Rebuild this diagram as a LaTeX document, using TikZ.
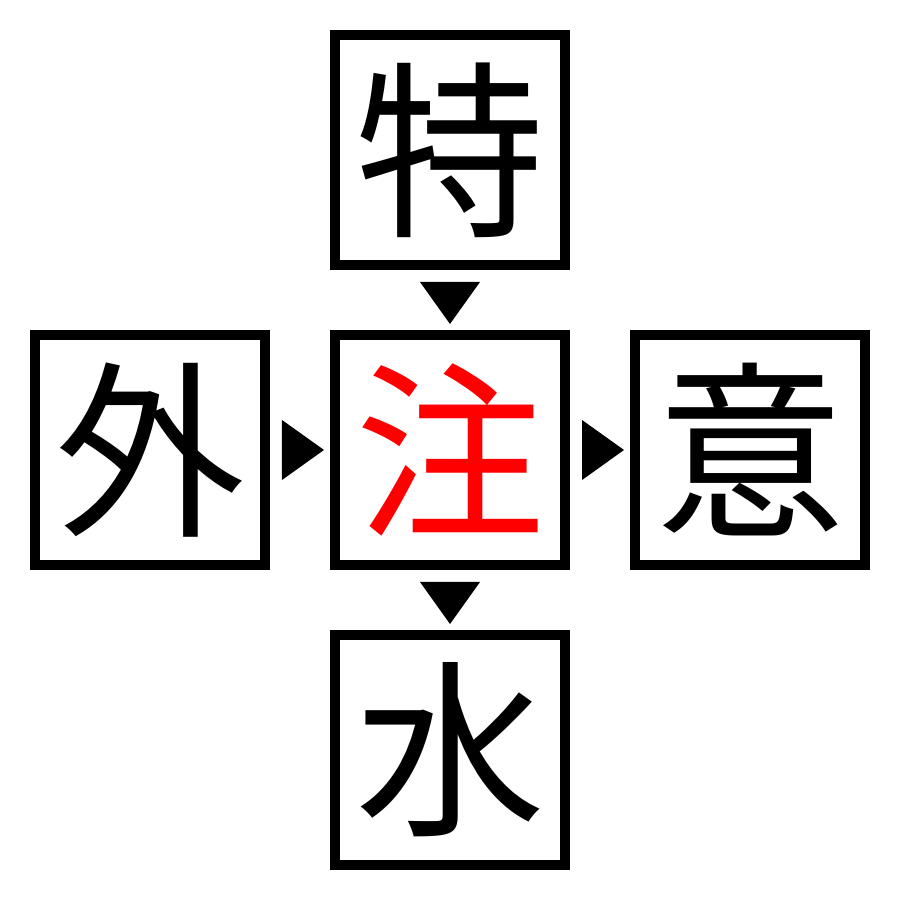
\documentclass[tikz,border=0pt]{standalone}
\usepackage{fontspec}
\newfontfamily\cjk{Noto Sans CJK JP}
\usetikzlibrary{positioning}

\tikzset{
	kanji/.style={draw, line width=0.1cm, minimum size=2.3cm, inner sep=0pt,
		font=\cjk\fontsize{54}{54}\selectfont},
	tip/.style={fill=black}
}

\begin{document}
\begin{tikzpicture}[node distance=0.6cm]
		\useasboundingbox (0,0) rectangle (9,9);
		\node[kanji, text=red] (M) at (4.5,4.5) {注};
		\node[kanji] (T) [above=of M] {特};
		\node[kanji] (L) [left=of M] {外};
		\node[kanji] (R) [right=of M] {意};
		\node[kanji] (B) [below=of M] {水};
		% arrow heads between the boxes
		\fill[tip] ([yshift=-0.12cm]T.south) ++(-0.3,0) -- ++(0.6,0) -- ++(-0.3,-0.42) -- cycle;
		\fill[tip] ([yshift=-0.12cm]M.south) ++(-0.3,0) -- ++(0.6,0) -- ++(-0.3,-0.42) -- cycle;
		\fill[tip] ([xshift=0.12cm]L.east) ++(0,0.3) -- ++(0,-0.6) -- ++(0.42,0.3) -- cycle;
		\fill[tip] ([xshift=0.12cm]M.east) ++(0,0.3) -- ++(0,-0.6) -- ++(0.42,0.3) -- cycle;
	\end{tikzpicture}
\end{document}
